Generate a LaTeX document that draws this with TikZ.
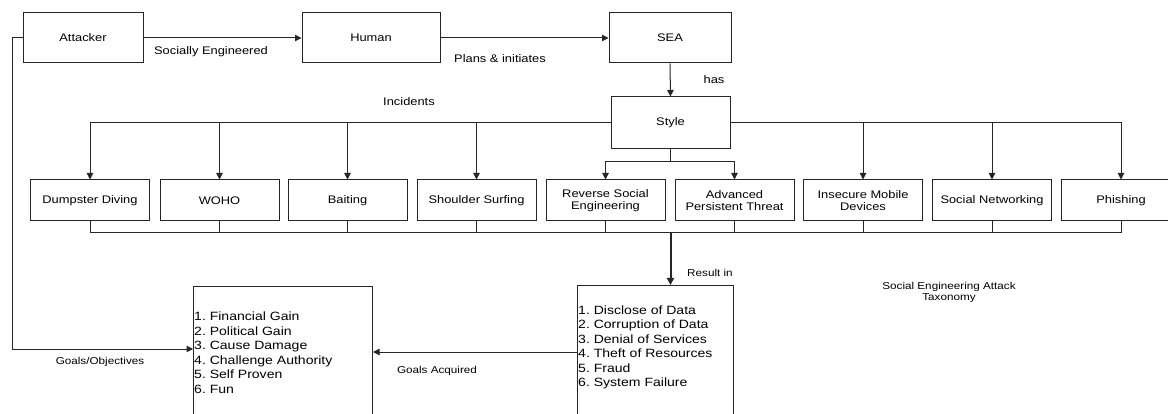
\documentclass[tikz,border=0pt]{standalone}
\usepackage{fontspec}
\setmainfont{Liberation Sans}[FakeStretch=1.17]
\usetikzlibrary{arrows.meta}
\begin{document}
\frenchspacing
\begin{tikzpicture}[x=1pt,y=-1pt,
  ln/.style={draw=black!85, line width=1pt},
  arr/.style={ln, -{Triangle[length=6.5pt,width=6.5pt]}},
  box/.style={ln, minimum width=119pt, minimum height=41pt, inner sep=1pt,
    font=\fontsize{11}{12}\selectfont, align=center},
  topbox/.style={box, minimum height=50pt},
  bigbox/.style={ln, minimum height=150pt, anchor=north west, inner sep=0pt},
  listtxt/.style={anchor=north west, inner sep=0pt, align=left,
    font=\fontsize{12}{14.5}\selectfont\frenchspacing},
  lbl/.style={inner sep=0pt, font=\fontsize{11}{12}\selectfont, align=center},
  slbl/.style={inner sep=0pt, font=\fontsize{10}{11}\selectfont, align=center}]
\useasboundingbox (0,0) rectangle (1168,414);
\clip (0,0) rectangle (1168,414);

% top row
\node[topbox, minimum width=120pt] (att) at (83,38) {Attacker};
\node[topbox, minimum width=138pt] (hum) at (371,38) {Human};
\node[topbox, minimum width=122pt] (sea) at (670,38) {SEA};
\node[box, minimum height=52pt] (sty) at (670.5,123) {Style};

% incident row
\node[box] (dd)  at (90,200.5)    {Dumpster Diving};
\node[box] (wo)  at (219.5,200.5) {WOHO};
\node[box] (ba)  at (347.5,200.5) {Baiting};
\node[box] (ss)  at (476.5,200.5) {Shoulder Surfing};
\node[box] (rse) at (605.5,200.5) {Reverse Social\\Engineering};
\node[box] (apt) at (734.5,200.5) {Advanced\\Persistent Threat};
\node[box] (imd) at (863,200.5)   {Insecure Mobile\\Devices};
\node[box] (sn)  at (992,200.5)   {Social Networking};
\node[box] (ph)  at (1121,200.5)  {Phishing};

% bottom boxes
\node[bigbox, minimum width=179pt] (goals) at (193,286) {};
\node[bigbox, minimum width=156pt] (res) at (577,285) {};
\node[listtxt] (glist) at (194,312) {1. Financial Gain\\2. Political Gain\\3. Cause Damage\\4. Challenge Authority\\5. Self Proven\\6. Fun};
\node[listtxt] (rlist) at (578,305.5) {1. Disclose of Data\\2. Corruption of Data\\3. Denial of Services\\4. Theft of Resources\\5. Fraud\\6. System Failure};

% labels
\node[lbl] (l1) at (211,52) {Socially Engineered};
\node[lbl] (l2) at (500,59) {Plans \& initiates};
\node[lbl] (l3) at (714,80) {has};
\node[lbl] (l4) at (409,102) {Incidents};
\node[slbl] (l5) at (710,273) {Result in};
\node[slbl] (l6) at (100,362) {Goals/Objectives};
\node[slbl] (l7) at (437,371) {Goals Acquired};
\node[slbl] (l8) at (949,292) {Social Engineering Attack\\Taxonomy};

% coordinates
\coordinate (split) at (670.5,162);
\coordinate (bus) at (670.5,233);
\coordinate (lft) at (12,38);

% connectors
\draw[arr] (att.east) -- (hum.west);
\draw[arr] (hum.east) -- (sea.west);
\draw[arr] (sea.south) -- (sty.north);
\draw[arr] (sty.west) -| (dd.north);
\draw[arr] (wo.north |- sty.west) -- (wo.north);
\draw[arr] (ba.north |- sty.west) -- (ba.north);
\draw[arr] (ss.north |- sty.west) -- (ss.north);
\draw[arr] (sty.east) -| (ph.north);
\draw[arr] (imd.north |- sty.east) -- (imd.north);
\draw[arr] (sn.north |- sty.east) -- (sn.north);
\draw[ln] (sty.south) -- (split);
\draw[arr] (split) -| (rse.north);
\draw[arr] (split) -| (apt.north);

\draw[ln] (dd.south) |- (ph.south |- bus) -- (ph.south);
\foreach \n in {wo,ba,ss,rse,apt,imd,sn}{
  \draw[ln] (\n.south) -- (\n.south |- bus);
}
\draw[ln, line width=2pt, -{Triangle[length=7pt,width=7pt]}] (bus) -- (bus |- res.north);

\draw[arr] (att.west) -- (lft) |- ([yshift=-63pt]goals.north west);
\draw[arr] ([yshift=-67pt]res.north west) -- ([yshift=-66pt]goals.north east);
\end{tikzpicture}
\end{document}
